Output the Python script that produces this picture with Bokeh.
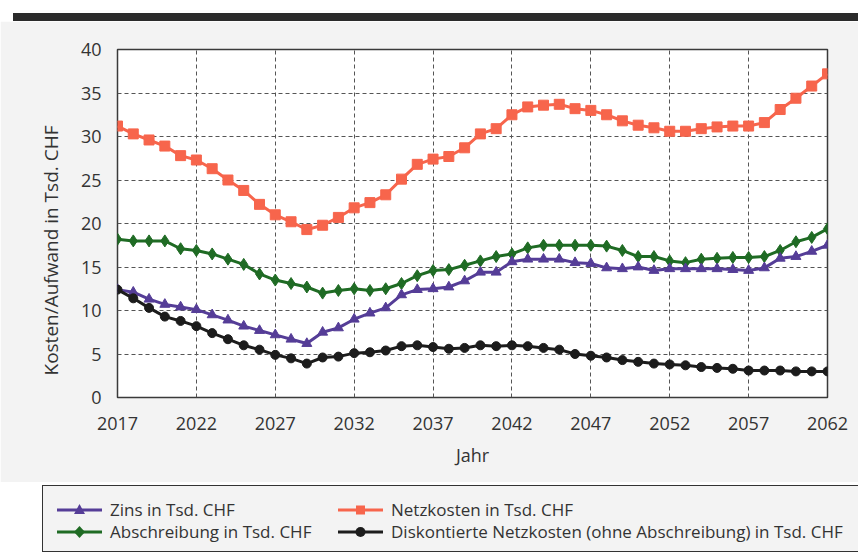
from bokeh.plotting import figure
from bokeh.models import FixedTicker, Div, ColumnDataSource, Range1d, Title
from bokeh.layouts import column
from bokeh.embed import file_html
from bokeh.resources import INLINE

years = list(range(2017, 2063))

netzkosten = [31.2, 30.3, 29.6, 28.9, 27.8, 27.3, 26.3, 25.0, 23.8, 22.2, 21.0, 20.2,
              19.3, 19.8, 20.7, 21.8, 22.4, 23.3, 25.1, 26.8, 27.4, 27.7, 28.7,
              30.3, 30.9, 32.5, 33.4, 33.6, 33.7, 33.2, 33.0, 32.5, 31.8, 31.3,
              31.0, 30.6, 30.6, 30.9, 31.1, 31.2, 31.2, 31.6, 33.1, 34.4, 35.8, 37.2]

abschreibung = [18.2, 18.0, 18.0, 18.0, 17.1, 16.9, 16.5, 15.9, 15.3, 14.2, 13.5, 13.1,
                12.7, 12.0, 12.3, 12.5, 12.3, 12.5, 13.1, 14.0, 14.6, 14.7, 15.2,
                15.7, 16.2, 16.5, 17.2, 17.5, 17.5, 17.5, 17.5, 17.4, 16.9, 16.2,
                16.2, 15.7, 15.5, 15.9, 16.0, 16.1, 16.1, 16.2, 16.9, 17.9, 18.4, 19.4]

zins = [12.4, 12.1, 11.3, 10.7, 10.4, 10.1, 9.5, 8.9, 8.2, 7.7, 7.2, 6.7,
        6.2, 7.5, 8.0, 9.0, 9.7, 10.3, 11.8, 12.4, 12.5, 12.7, 13.4,
        14.4, 14.4, 15.6, 15.9, 15.9, 15.9, 15.5, 15.4, 14.9, 14.8, 15.0,
        14.6, 14.8, 14.8, 14.8, 14.8, 14.7, 14.6, 14.9, 16.0, 16.2, 16.8, 17.5]

diskontiert = [12.4, 11.4, 10.3, 9.3, 8.8, 8.2, 7.4, 6.7, 6.0, 5.5, 4.9, 4.5,
               3.9, 4.6, 4.7, 5.1, 5.2, 5.4, 5.9, 6.0, 5.8, 5.6, 5.7,
               6.0, 5.9, 6.0, 5.9, 5.7, 5.5, 5.0, 4.8, 4.6, 4.3, 4.1,
               3.9, 3.8, 3.7, 3.5, 3.4, 3.3, 3.1, 3.1, 3.1, 3.0, 3.0, 3.0]

x_ticks = [2017, 2022, 2027, 2032, 2037, 2042, 2047, 2052, 2057, 2062]
y_ticks = [0, 5, 10, 15, 20, 25, 30, 35, 40]

labels = {
    "zins": "Zins in Tsd. CHF",
    "netz": "Netzkosten in Tsd. CHF",
    "absch": "Abschreibung in Tsd. CHF",
    "disk": "Diskontierte Netzkosten (ohne Abschreibung) in Tsd. CHF",
}
x_label = "Jahr"
y_label = "Kosten/Aufwand in Tsd. CHF"

src = ColumnDataSource(dict(year=years, netz=netzkosten, absch=abschreibung,
                            zins=zins, disk=diskontiert))

PAGE = "#f3f3f3"
INK = "#333333"
FONT = "Open Sans"

p = figure(width=858, height=461, output_backend="svg", toolbar_location=None,
           x_range=Range1d(2017, 2062), y_range=Range1d(0, 40),
           min_border_left=117, min_border_right=31, min_border_top=28,
           min_border_bottom=85)
p.border_fill_color = PAGE
p.background_fill_color = "white"
p.outline_line_color = "#3a3a3a"
p.outline_line_width = 1.5

for g, t in ((p.xgrid, x_ticks), (p.ygrid, y_ticks)):
    g.ticker = FixedTicker(ticks=t)
    g.grid_line_color = "#555555"
    g.grid_line_dash = "4 3"
    g.grid_line_width = 1

p.xaxis.ticker = FixedTicker(ticks=x_ticks)
p.yaxis.ticker = FixedTicker(ticks=y_ticks)
for ax in (p.xaxis, p.yaxis):
    ax.axis_line_color = None
    ax.major_tick_line_color = None
    ax.minor_tick_line_color = None
    ax.major_label_text_font = FONT
    ax.major_label_text_font_size = "18px"
    ax.major_label_text_color = INK
    ax.axis_label_text_font = FONT
    ax.axis_label_text_font_style = "normal"
    ax.axis_label_text_font_size = "18px"
    ax.axis_label_text_color = INK
p.xaxis.axis_label = x_label
p.xaxis.major_label_standoff = 13
p.xaxis.axis_label_standoff = 10
p.yaxis.major_label_standoff = 10

# y-axis title, placed a bit below the frame centre as in the reference
ytitle = Title(text=y_label, align="left", offset=22, standoff=28,
               text_font=FONT, text_font_size="19px", text_font_style="normal",
               text_color=INK)
p.add_layout(ytitle, "left")

series = [
    ("netz", "#f7654c", "square", 10),
    ("absch", "#1f6b24", "diamond", 12),
    ("zins", "#553d97", "triangle", 10),
    ("disk", "#1c1c1c", "circle", 9),
]
styles = {}
for key, color, marker, size in series:
    p.line("year", key, source=src, line_color=color, line_width=3)
    p.scatter("year", key, source=src, marker=marker, size=size,
              fill_color=color, line_color=color)
    styles[key] = (color, marker)


def glyph_svg(color, marker):
    if marker == "square":
        m = f'<rect x="18" y="5.5" width="9" height="9" fill="{color}"/>'
    elif marker == "diamond":
        m = f'<polygon points="22.5,4 28,10 22.5,16 17,10" fill="{color}"/>'
    elif marker == "triangle":
        m = f'<polygon points="22.5,4 28,14 17,14" fill="{color}"/>'
    else:
        m = f'<circle cx="22.5" cy="10" r="5" fill="{color}"/>'
    return ('<svg width="45" height="20" style="flex:none">'
            f'<line x1="0" y1="10" x2="45" y2="10" stroke="{color}" stroke-width="3"/>'
            f'{m}</svg>')


legend_layout = [("zins", 14, 14), ("absch", 14, 36), ("netz", 295, 14), ("disk", 295, 36)]
entries = []
for key, left, top in legend_layout:
    color, marker = styles[key]
    entries.append(
        f'<div style="position:absolute;left:{left}px;top:{top}px;height:20px;'
        f'display:flex;align-items:center;white-space:nowrap;">'
        f'{glyph_svg(color, marker)}'
        f'<span style="margin-left:8px;line-height:20px;">{labels[key]}</span></div>')

legend_html = (
    f'<div style="position:relative;width:816px;height:67px;box-sizing:border-box;'
    f'border:1.3px solid #333;border-right:none;background:{PAGE};'
    f'font-family:\'{FONT}\';font-size:17px;color:{INK};overflow:hidden;">'
    + "".join(entries) + '</div>')

legend_div = Div(text=legend_html, width=816, height=67, margin=(3, 0, 0, 42))

band = Div(text="", width=845, height=8, margin=(13, 0, 0, 13),
           styles={"background-color": "#2b2b2b"})

layout = column(band, p, legend_div, spacing=0)
open("out.html", "w").write(file_html(layout, INLINE))
